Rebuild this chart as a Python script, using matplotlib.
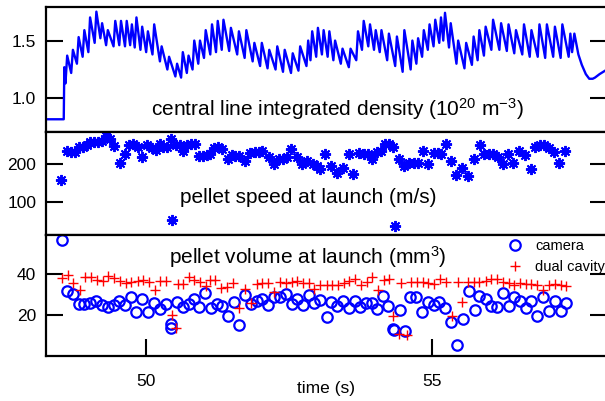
import matplotlib
matplotlib.use("Agg")
import matplotlib.pyplot as plt

plt.rcParams['font.family'] = ['Liberation Sans', 'DejaVu Sans']
plt.rcParams['mathtext.default'] = 'regular'

# ---------------- data ----------------
dens_t = [48.28, 48.56, 48.57, 48.59, 48.62, 48.69, 48.72, 48.79, 48.82, 48.89, 48.92, 48.99, 49.02,
          49.10, 49.13, 49.20, 49.23, 49.30, 49.33, 49.43, 49.46, 49.53, 49.56, 49.63, 49.66, 49.72, 49.75,
          49.80, 49.83, 49.90, 49.93, 50.00, 50.03, 50.11, 50.14, 50.24, 50.27, 50.37, 50.40, 50.51, 50.54,
          50.61, 50.64, 50.71, 50.74, 50.81, 50.84, 50.91, 50.94, 51.01, 51.04, 51.12, 51.15, 51.22, 51.25,
          51.32, 51.35, 51.45, 51.48, 51.59, 51.62, 51.72, 51.75, 51.86, 51.89, 51.99, 52.02, 52.12, 52.15,
          52.26, 52.29, 52.39, 52.42, 52.53, 52.56, 52.66, 52.69, 52.80, 52.83, 52.87, 52.90, 52.97, 53.00,
          53.07, 53.10, 53.17, 53.20, 53.27, 53.30, 53.40, 53.43, 53.54, 53.57, 53.67, 53.70, 53.77, 53.80,
          53.88, 53.91, 53.98, 54.01, 54.08, 54.11, 54.21, 54.24, 54.35, 54.38, 54.48, 54.51, 54.62, 54.65,
          54.72, 54.75, 54.82, 54.85, 54.92, 54.95, 55.02, 55.05, 55.12, 55.15, 55.19, 55.22, 55.29, 55.32,
          55.42, 55.45, 55.56, 55.59, 55.69, 55.72, 55.79, 55.82, 55.90, 55.93, 56.03, 56.06, 56.17, 56.20,
          56.30, 56.33, 56.43, 56.46, 56.57, 56.60, 56.70, 56.73, 56.84, 56.87, 56.97, 57.00, 57.11, 57.14,
          57.24, 57.27, 57.38, 57.41, 57.44, 57.48, 57.55, 57.61, 57.68, 57.74, 57.80, 57.84, 57.92, 58.05]
dens_v = [0.82, 0.82, 1.27, 1.13, 1.37, 1.22, 1.42, 1.30, 1.53, 1.36, 1.59, 1.40, 1.70,
          1.48, 1.75, 1.52, 1.65, 1.46, 1.59, 1.45, 1.67, 1.46, 1.67, 1.45, 1.67, 1.46, 1.64,
          1.44, 1.70, 1.42, 1.62, 1.40, 1.58, 1.38, 1.64, 1.32, 1.45, 1.25, 1.36, 1.19, 1.30,
          1.18, 1.40, 1.22, 1.37, 1.25, 1.50, 1.30, 1.50, 1.35, 1.59, 1.38, 1.64, 1.40, 1.67,
          1.42, 1.68, 1.41, 1.61, 1.38, 1.58, 1.35, 1.59, 1.32, 1.48, 1.28, 1.48, 1.26, 1.42,
          1.25, 1.45, 1.23, 1.42, 1.22, 1.39, 1.24, 1.45, 1.28, 1.50, 1.33, 1.58, 1.36, 1.61,
          1.38, 1.59, 1.36, 1.58, 1.33, 1.50, 1.30, 1.43, 1.27, 1.43, 1.33, 1.58, 1.42, 1.67,
          1.45, 1.64, 1.42, 1.59, 1.40, 1.59, 1.33, 1.56, 1.28, 1.535, 1.23, 1.59, 1.25, 1.50,
          1.30, 1.52, 1.36, 1.59, 1.42, 1.64, 1.45, 1.68, 1.48, 1.70, 1.50, 1.74, 1.44, 1.65,
          1.30, 1.50, 1.26, 1.48, 1.29, 1.535, 1.33, 1.59, 1.37, 1.62, 1.42, 1.68, 1.42, 1.65,
          1.41, 1.64, 1.39, 1.59, 1.38, 1.64, 1.36, 1.59, 1.36, 1.64, 1.35, 1.64, 1.36, 1.62,
          1.35, 1.64, 1.36, 1.56, 1.40, 1.56, 1.38, 1.29, 1.21, 1.17, 1.17, 1.18, 1.21, 1.25]

speed_t = [48.52, 48.62, 48.69, 48.75, 48.82, 48.89, 48.96, 49.02, 49.09, 49.16, 49.23, 49.29, 49.36,
           49.44, 49.54, 49.63, 49.70, 49.77, 49.85, 49.93, 50.02, 50.10, 50.17, 50.24, 50.30, 50.37,
           50.44, 50.45, 50.52, 50.59, 50.65, 50.72, 50.79, 50.86, 50.92, 50.99, 51.06, 51.12, 51.19,
           51.26, 51.33, 51.43, 51.50, 51.56, 51.63, 51.73, 51.82, 51.90, 51.97, 52.03, 52.14, 52.24,
           52.32, 52.39, 52.46, 52.53, 52.63, 52.73, 52.81, 52.91, 52.98, 53.04, 53.13, 53.22, 53.33,
           53.43, 53.54, 53.62, 53.72, 53.80, 53.87, 53.95, 54.04, 54.11, 54.18, 54.24, 54.31, 54.34,
           54.41, 54.51, 54.59, 54.68, 54.75, 54.83, 54.92, 55.02, 55.10, 55.15, 55.23, 55.32, 55.42,
           55.52, 55.62, 55.72, 55.83, 55.91, 55.99, 56.06, 56.14, 56.23, 56.32, 56.41, 56.52, 56.61,
           56.72, 56.80, 56.88, 56.95, 57.04, 57.12, 57.22, 57.32]
speed_v = [159, 236, 233, 232, 245, 245, 250, 260, 259, 259, 263, 275, 268,
           248, 202, 227, 250, 254, 245, 218, 251, 242, 239, 254, 245, 245,
           268, 51, 251, 250, 236, 250, 254, 254, 223, 223, 224, 227, 242,
           245, 241, 215, 224, 223, 223, 209, 230, 232, 232, 236, 218, 200,
           213, 215, 218, 241, 218, 200, 209, 200, 194, 188, 227, 195, 177,
           191, 227, 173, 230, 227, 227, 213, 232, 234, 254, 254, 245, 35,
           215, 195, 204, 204, 204, 234, 200, 230, 230, 227, 254, 209, 170,
           191, 168, 213, 250, 227, 227, 227, 218, 200, 227, 204, 236, 224,
           188, 245, 250, 250, 242, 232, 204, 234]

cam_t = [48.53, 48.62, 48.72, 48.82, 48.92, 49.02, 49.13, 49.23, 49.33, 49.43, 49.53, 49.63, 49.73,
         49.83, 49.93, 50.03, 50.14, 50.24, 50.34, 50.44, 50.44, 50.54, 50.64, 50.74, 50.84, 50.93,
         51.03, 51.13, 51.23, 51.33, 51.43, 51.54, 51.63, 51.73, 51.83, 51.93, 52.03, 52.13, 52.24,
         52.34, 52.44, 52.54, 52.64, 52.74, 52.84, 52.94, 53.04, 53.15, 53.23, 53.33, 53.43, 53.54,
         53.64, 53.74, 53.84, 53.94, 54.04, 54.13, 54.23, 54.32, 54.33, 54.43, 54.53, 54.61, 54.71,
         54.81, 54.92, 55.02, 55.12, 55.22, 55.32, 55.43, 55.53, 55.64, 55.74, 55.82, 55.93, 56.03,
         56.13, 56.23, 56.33, 56.43, 56.53, 56.63, 56.73, 56.83, 56.94, 57.04, 57.14, 57.24, 57.34]
cam_v = [56.8, 31.6, 30.3, 25.1, 25.1, 25.5, 26.8, 24.8, 23.8, 24.8, 26.8, 24.8, 28.9,
         21.4, 27.7, 21.4, 25.5, 22.6, 25.1, 15.5, 13.2, 26.0, 23.8, 25.1, 27.7, 23.8,
         30.6, 23.4, 25.1, 24.3, 19.1, 26.0, 15.0, 29.9, 25.1, 26.8, 27.7, 24.8, 28.5,
         28.9, 30.3, 25.1, 27.7, 24.8, 29.9, 25.5, 27.2, 18.6, 26.0, 24.3, 26.5, 23.1,
         26.5, 23.8, 25.5, 25.5, 22.6, 29.4, 24.3, 12.8, 12.2, 22.1, 11.8, 28.9, 28.9,
         21.4, 26.0, 24.8, 26.0, 23.1, 16.2, 5.0, 18.0, 31.6, 22.1, 29.4, 27.7, 24.3,
         23.8, 30.6, 24.3, 28.9, 26.5, 23.1, 26.8, 19.1, 28.5, 21.7, 26.5, 21.7, 25.5]

dual_t = [48.53, 48.64, 48.73, 48.84, 48.94, 49.04, 49.14, 49.24, 49.34, 49.44, 49.54, 49.64, 49.74,
          49.85, 49.95, 50.05, 50.15, 50.25, 50.35, 50.45, 50.52, 50.55, 50.65, 50.75, 50.84, 50.94,
          51.04, 51.11, 51.21, 51.31, 51.41, 51.52, 51.63, 51.73, 51.83, 51.93, 52.03, 52.13, 52.24,
          52.34, 52.44, 52.54, 52.64, 52.74, 52.84, 52.94, 53.04, 53.15, 53.25, 53.35, 53.45, 53.55,
          53.65, 53.75, 53.85, 53.95, 54.05, 54.15, 54.24, 54.32, 54.42, 54.46, 54.55, 54.63, 54.73,
          54.83, 54.93, 55.03, 55.13, 55.23, 55.35, 55.45, 55.52, 55.62, 55.72, 55.82, 55.93, 56.03,
          56.13, 56.23, 56.33, 56.43, 56.53, 56.63, 56.73, 56.83, 56.94, 57.04, 57.14, 57.24, 57.34]
dual_v = [37.9, 39.7, 35.7, 32.0, 38.5, 38.8, 37.1, 36.8, 39.1, 37.9, 36.8, 35.7, 36.2,
          36.8, 37.1, 36.2, 32.3, 36.8, 36.8, 19.7, 13.5, 35.0, 35.0, 38.5, 37.1, 36.2,
          34.0, 37.1, 37.1, 33.3, 33.7, 35.7, 23.1, 32.8, 25.5, 35.0, 35.7, 35.4, 31.1,
          36.2, 35.4, 36.2, 36.8, 35.4, 35.7, 32.8, 34.5, 34.5, 34.5, 34.5, 35.7, 36.8,
          37.4, 34.5, 36.2, 38.5, 32.0, 37.1, 37.4, 19.1, 10.6, 35.7, 9.7, 36.2, 36.2,
          36.2, 35.7, 35.0, 37.4, 36.2, 19.1, 36.2, 26.0, 36.2, 36.2, 36.2, 36.8, 37.4,
          37.4, 36.2, 35.4, 34.5, 35.4, 35.0, 35.0, 34.5, 32.0, 34.5, 35.0, 34.5, 34.0]

x_ticks = [50, 55]
dens_ticks = [1.0, 1.5]
speed_ticks = [100, 200]
vol_ticks = [20, 40]

# ---------------- figure ----------------
W, H = 605, 401
fig = plt.figure(figsize=(W / 100, H / 100), dpi=100)

def px_axes(top, bottom):
    return fig.add_axes([46 / W, (H - bottom) / H, 561 / W, (bottom - top) / H])

ax1 = px_axes(7, 132)
ax2 = px_axes(132, 235)
ax3 = px_axes(235, 356)

xlim = (48.25, 58.05)
for ax in (ax1, ax2, ax3):
    ax.set_xlim(*xlim)
    for s in ax.spines.values():
        s.set_linewidth(1.6)
    ax.tick_params(axis='y', direction='in', length=12, width=1.5, left=True, right=True,
                   labelsize=12.5, pad=7)
    ax.tick_params(axis='x', direction='in', length=12, width=1.5, top=False, bottom=False,
                   labelbottom=False)

blue = '#0000ff'
red = '#ff0000'

ax1.plot(dens_t, dens_v, color=blue, lw=1.7)
ax1.set_ylim(0.71, 1.79)
ax1.set_yticks(dens_ticks)
ax1.set_yticklabels(['1.0', '1.5'])
ax1.text(0.52, 0.18, 'central line integrated density (10$^{20}$ m$^{-3}$)', transform=ax1.transAxes,
         ha='center', va='center', fontsize=15)

ax2.plot(speed_t, speed_v, linestyle='none', marker=(8, 2, 0), ms=8, mew=1.4, color=blue)
ax2.set_ylim(11, 286)
ax2.set_yticks(speed_ticks)
ax2.text(0.467, 0.36, 'pellet speed at launch (m/s)', transform=ax2.transAxes,
         ha='center', va='center', fontsize=15)

ax3.plot(cam_t, cam_v, linestyle='none', marker='o', ms=7.5, mfc='none', mec=blue, mew=1.6,
         label='camera', clip_on=False)
ax3.plot(dual_t, dual_v, linestyle='none', marker='+', ms=7.5, mew=1.0, color=red,
         label='dual cavity')
ax3.set_ylim(-0.5, 59.4)
ax3.set_yticks(vol_ticks)
ax3.set_xticks(x_ticks)
ax3.tick_params(axis='x', bottom=True, labelbottom=True, labelsize=12.5, pad=13)
ax3.text(0.467, 0.82, 'pellet volume at launch (mm$^3$)', transform=ax3.transAxes,
         ha='center', va='center', fontsize=15, zorder=10,
         bbox=dict(facecolor='white', edgecolor='none', pad=1.5))
ax3.set_xlabel('time (s)', fontsize=12.5)
ax3.xaxis.set_label_coords(0.5, -0.265)
ax3.xaxis.label.set_va('center')
leg = ax3.legend(loc='upper left', bbox_to_anchor=(0.812, 1.015), frameon=False, fontsize=10.5,
                 handletextpad=0.9, labelspacing=0.5, borderaxespad=0, handlelength=1.0)

fig.savefig('out.png', dpi=100)
